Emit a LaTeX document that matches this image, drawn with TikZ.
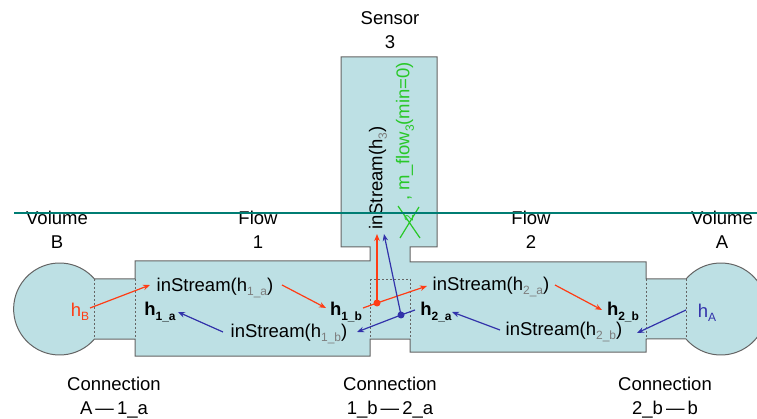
\documentclass[tikz,border=0pt]{standalone}
\usepackage{fontspec}
\setmainfont{Liberation Sans}
\usetikzlibrary{arrows.meta}
\definecolor{fillc}{RGB}{189,224,228}
\definecolor{edgec}{RGB}{100,100,100}
\definecolor{redc}{RGB}{255,60,20}
\definecolor{bluec}{RGB}{50,50,170}
\definecolor{greenc}{RGB}{40,200,40}
\definecolor{tealc}{RGB}{0,125,115}
\definecolor{subc}{RGB}{125,125,125}
\newcommand\sbx[1]{\raisebox{-0.45ex}{\fontsize{12}{12}\selectfont #1}}
\newcommand\gsb[1]{\textcolor{subc}{\sbx{#1}}}
\begin{document}
\begin{tikzpicture}[x=1pt,y=-1pt,
  lbl/.style={font=\fontsize{18.5}{24}\selectfont, align=center, inner sep=0pt},
  txt/.style={font=\fontsize{18.5}{22}\selectfont, inner sep=0pt},
  ra/.style={draw=redc, line width=1.2pt, -{Stealth[length=7pt,width=5.5pt]}},
  ba/.style={draw=bluec, line width=1.2pt, -{Stealth[length=7pt,width=5.5pt]}},
  rl/.style={draw=redc, line width=1.2pt},
  bl/.style={draw=bluec, line width=1.2pt},
  cut/.style={draw=edgec, line width=0.8pt, dash pattern=on 2pt off 2pt}]
\useasboundingbox (0,0) rectangle (757,419);
% body
\path[fill=fillc, draw=edgec, line width=1pt]
  (94.5,279) -- (135,279) -- (135,261) -- (370,261) -- (370,247) -- (341,247)
  -- (341,57) -- (437,57) -- (437,247) -- (410,247) -- (410,262) -- (646,262)
  -- (646,279) -- (686,279) arc[start angle=-139.3,end angle=139.3,radius=46]
  -- (646,339) -- (646,352) -- (410,352) -- (410,339) -- (370,339) -- (370,356)
  -- (135,356) -- (135,339) -- (94.5,339) arc[start angle=40.7,end angle=319.3,radius=46]
  -- cycle;
% cut lines
\foreach \xx in {94.5,135,370,410,646,686} \draw[cut] (\xx,279) -- (\xx,339);
\draw[cut] (370,279) -- (410,279);
% outer labels
\node[lbl] (volB) at (57,230) {Volume\\B};
\node[lbl] (flow1) at (258,230) {Flow\\1};
\node[lbl] (sens) at (390,30) {Sensor\\3};
\node[lbl] (flow2) at (531,230) {Flow\\2};
\node[lbl] (volA) at (722,230) {Volume\\A};
\node[lbl] (conA) at (114,398) {Connection\\A\,—\,1\_a};
\node[lbl] (conM) at (390,398) {Connection\\1\_b\,—\,2\_a};
\node[lbl] (conB) at (665,398) {Connection\\2\_b\,—\,b};
% inner texts
\node[txt] (is1a) at (215,288) {inStream(h\gsb{1\_a})};
\node[txt] (h1a) at (160,312) {\textbf{h\sbx{\textbf{1\_a}}}};
\node[txt] (h1b) at (346,312) {\textbf{h\sbx{\textbf{1\_b}}}};
\node[txt] (is1b) at (289,334) {inStream(h\gsb{1\_b})};
\node[txt] (is2a) at (491,287) {inStream(h\gsb{2\_a})};
\node[txt] (h2a) at (436,312) {\textbf{h\sbx{\textbf{2\_a}}}};
\node[txt] (h2b) at (623,312) {\textbf{h\sbx{\textbf{2\_b}}}};
\node[txt] (is2b) at (564,332) {inStream(h\gsb{2\_b})};
\node[txt, text=redc] (hB) at (80,312) {h\sbx{B}};
\node[txt, text=bluec] (hA) at (707,313) {h\sbx{A}};
\node[txt, rotate=90, anchor=west] (is3) at (378,230) {inStream(h\gsb{3})};
\node[txt, rotate=90, anchor=west, text=greenc] (mf3) at (405,201) {, m\_flow\sbx{3}(min=0)};
\node[inner sep=0pt, rotate=90, text=greenc, font=\fontsize{12}{12}\selectfont] (two) at (409,218) {2};
\coordinate (xa1) at (398,206); \coordinate (xa2) at (420,238);
\coordinate (xb1) at (400,238); \coordinate (xb2) at (419,207);
\draw[greenc, line width=1.2pt] (xa1) -- (xa2) (xb1) -- (xb2);
% red connectors
\coordinate (r1s) at (90,308); \coordinate (r1e) at (150,285);
\coordinate (r2s) at (282,285); \coordinate (r2e) at (326,308);
\coordinate (r3s) at (363,308); \coordinate (dotR) at (377,303); \coordinate (r3e) at (427,286);
\coordinate (r5e) at (377,234);
\coordinate (r4s) at (555,285); \coordinate (r4e) at (602,310);
\draw[ra] (r1s) -- (r1e);
\draw[ra] (r2s) -- (r2e);
\draw[rl] (r3s) -- (dotR);
\draw[ra] (dotR) -- (r3e);
\draw[ra] (dotR) -- (r5e);
\draw[ra] (r4s) -- (r4e);
\fill[redc] (dotR) circle[radius=3.5];
% blue connectors
\coordinate (b1s) at (686,310); \coordinate (b1e) at (637,333);
\coordinate (b2s) at (500,330); \coordinate (b2e) at (452,312);
\coordinate (b3s) at (415,310); \coordinate (dotB) at (401,315); \coordinate (b3e) at (357,332);
\coordinate (b5e) at (384,234);
\coordinate (b4s) at (223,332); \coordinate (b4e) at (178,312);
\draw[ba] (b1s) -- (b1e);
\draw[ba] (b2s) -- (b2e);
\draw[bl] (b3s) -- (dotB);
\draw[ba] (dotB) -- (b3e);
\draw[ba] (dotB) -- (b5e);
\draw[ba] (b4s) -- (b4e);
\fill[bluec] (dotB) circle[radius=3.5];
% teal line
\coordinate (tl1) at (14,213); \coordinate (tl2) at (757,213);
\draw[tealc, line width=1.8pt] (tl1) -- (tl2);
\end{tikzpicture}
\end{document}
